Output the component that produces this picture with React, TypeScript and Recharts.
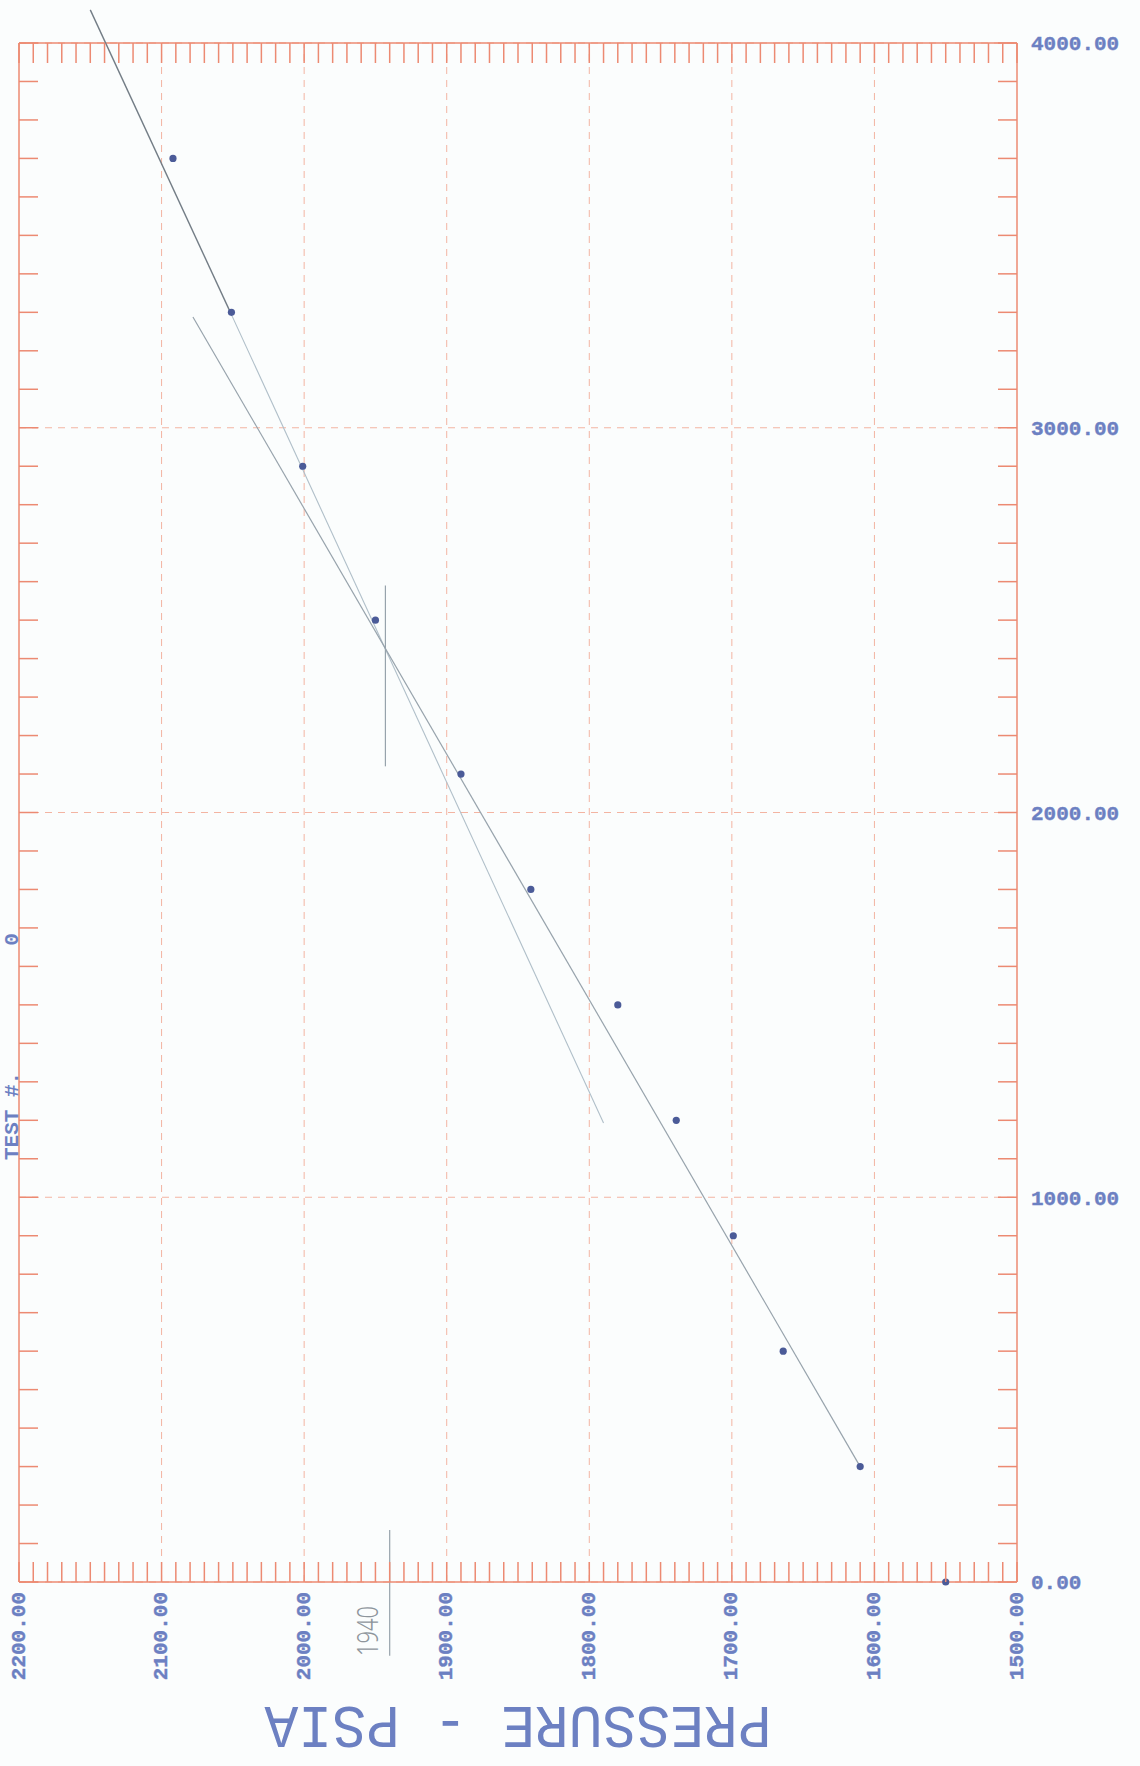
import React from "react";
import {
  ScatterChart,
  Scatter,
  XAxis,
  YAxis,
  CartesianGrid,
  ReferenceLine,
} from "recharts";

// plotted readings: pressure (psia) against the right-hand scale
const pressure = [2092, 2051, 2001, 1950, 1890, 1841, 1780, 1739, 1699, 1664, 1610, 1550];
const reading = [3700, 3300, 2900, 2500, 2100, 1800, 1500, 1200, 900, 600, 300, 0];

// pencilled lines, as [pressure, reading] points
const steepLine = [[2150, 4086], [2051, 3294], [1790, 1193]];
const fitLine = [[2078, 3288], [1610, 300]];
const crossMark = [[1943, 2590], [1943, 2120]];
const noteLine = [[1940, 135], [1940, -192]];
const noteText = "1940";

const pressureTicks = [2200, 2100, 2000, 1900, 1800, 1700, 1600, 1500];
const readingTicks = [0, 1000, 2000, 3000, 4000];
const pressureMinor = Array.from({ length: 71 }, (_, i) => 1500 + i * 10);
const readingMinor = Array.from({ length: 41 }, (_, i) => i * 100);

const xTitle = "PRESSURE - PSIA";
const sideTitle = "TEST #.          0";

const ORANGE = "#ec8a72";
const GRID = "#f3b4a2";
const BLUE = "#6c80c2";
const DOT = "#4b5b98";
const PENCIL_DARK = "#737d86";
const PENCIL = "#97a3ac";
const PENCIL_LIGHT = "#b0bfc9";

const TOP = 43; // chart top margin = frame top
const TICK = 20;

const points = pressure.map((p, i) => ({ p, t: reading[i] }));
const seg = (a: number[]) => ({ x: a[0], y: a[1] });

// minor y axes draw only their tick marks
const NoLabel = () => <g />;

// every 10 psi: inward marks on bottom and top frame, label every 100
const PressureTick = ({ x, y, payload }: any) => {
  const v = Number(payload.value);
  const base = y - 10;
  return (
    <g>
      <line x1={x} x2={x} y1={base} y2={base - TICK} stroke={ORANGE} strokeWidth={1.5} />
      <line x1={x} x2={x} y1={TOP} y2={TOP + TICK} stroke={ORANGE} strokeWidth={1.5} />
      {pressureTicks.includes(v) && (
        <text
          x={x}
          y={y}
          transform={`rotate(-90 ${x} ${y})`}
          textAnchor="end"
          dominantBaseline="central"
          fontFamily="Liberation Mono"
          fontWeight="bold"
          fontSize={21}
          fill={BLUE}
          stroke={BLUE}
          strokeWidth={0.4}
        >
          {v.toFixed(2)}
        </text>
      )}
    </g>
  );
};

const XTitle = ({ viewBox }: any) => {
  const cx = viewBox.x + viewBox.width / 2;
  const cy = viewBox.y + 141;
  return (
    <text
      x={cx}
      y={cy}
      transform={`rotate(180 ${cx} ${cy})`}
      textAnchor="middle"
      dominantBaseline="central"
      fontFamily="Liberation Mono"
      fontSize={62}
      textLength={507}
      lengthAdjust="spacingAndGlyphs"
      fill={BLUE}
    >
      {xTitle}
    </text>
  );
};

// side title sits in the narrow strip left of the frame
const SideTitle = ({ viewBox }: any) => {
  const x = viewBox.x - 1;
  const y = viewBox.y + 1117;
  return (
    <text
      x={x}
      y={y}
      transform={`rotate(-90 ${x} ${y})`}
      textAnchor="start"
      fontFamily="Liberation Mono"
      fontWeight="bold"
      fontSize={21}
      fill={BLUE}
      style={{ whiteSpace: "pre" }}
    >
      {sideTitle}
    </text>
  );
};

const NoteLabel = (props: any) => {
  const vb = props.viewBox || {};
  const x = (vb.x ?? vb.x1) - 23;
  const y = vb.height != null ? vb.y + vb.height : Math.max(vb.y1, vb.y2);
  return (
    <text
      x={x}
      y={y}
      transform={`rotate(-90 ${x} ${y})`}
      textAnchor="start"
      dominantBaseline="central"
      fontFamily="Noto Sans"
      fontWeight={300}
      fontSize={30}
      textLength={50}
      lengthAdjust="spacingAndGlyphs"
      fill="#8e959c"
    >
      {noteText}
    </text>
  );
};

const Dot = ({ cx, cy }: any) => <circle cx={cx} cy={cy} r={3.6} fill={DOT} />;

export default function App() {
  const line = { stroke: ORANGE, strokeWidth: 1.5 };
  return (
    <div style={{ position: "absolute", left: 0, top: 0, width: 1140, height: 1766, background: "#fbfdfd" }}>
      <ScatterChart width={1140} height={1766} margin={{ top: TOP, right: 0, bottom: 0, left: 19 }}>
        <CartesianGrid stroke={GRID} strokeDasharray="7 6" strokeWidth={1} vertical={false} />
        {pressureTicks.slice(1, -1).map((v) => (
          <ReferenceLine key={v} x={v} stroke={GRID} strokeDasharray="7 6" strokeWidth={1} />
        ))}
        <ReferenceLine y={4000} stroke={ORANGE} strokeWidth={1.5} />

        <XAxis
          dataKey="p"
          type="number"
          domain={[1500, 2200]}
          reversed
          ticks={pressureMinor}
          interval={0}
          height={184}
          axisLine={line}
          tickLine={false}
          tickSize={0}
          tickMargin={10}
          tick={<PressureTick />}
          label={<XTitle />}
        />

        <YAxis
          dataKey="t"
          type="number"
          orientation="right"
          domain={[0, 4000]}
          ticks={readingTicks}
          interval={0}
          width={123}
          axisLine={line}
          tickLine={false}
          tickSize={0}
          tickMargin={14}
          tickFormatter={(v: number) => v.toFixed(2)}
          tick={{ fill: BLUE, stroke: BLUE, strokeWidth: 0.4, fontFamily: "Liberation Mono", fontWeight: "bold", fontSize: 21 }}
        />
        <YAxis
          yAxisId="left"
          orientation="left"
          mirror
          type="number"
          domain={[0, 4000]}
          allowDataOverflow
          ticks={readingMinor}
          interval={0}
          width={20}
          tick={NoLabel}
          tickSize={19}
          tickLine={line}
          axisLine={line}
          label={<SideTitle />}
        />
        <YAxis
          yAxisId="rightMinor"
          orientation="right"
          mirror
          type="number"
          domain={[0, 4000]}
          allowDataOverflow
          ticks={readingMinor}
          interval={0}
          width={20}
          tick={NoLabel}
          tickSize={19}
          tickLine={line}
          axisLine={false}
        />

        <ReferenceLine
          segment={[seg(steepLine[0]), seg(steepLine[1])]}
          stroke={PENCIL_DARK}
          strokeWidth={1.4}
          ifOverflow="visible"
        />
        <ReferenceLine
          segment={[seg(steepLine[1]), seg(steepLine[2])]}
          stroke={PENCIL_LIGHT}
          strokeWidth={1.1}
          ifOverflow="visible"
        />
        <ReferenceLine
          segment={[seg(fitLine[0]), seg(fitLine[1])]}
          stroke={PENCIL}
          strokeWidth={1.2}
          ifOverflow="visible"
        />
        <ReferenceLine
          segment={[seg(crossMark[0]), seg(crossMark[1])]}
          stroke={PENCIL}
          strokeWidth={1.2}
          ifOverflow="visible"
        />
        <ReferenceLine
          segment={[seg(noteLine[0]), seg(noteLine[1])]}
          stroke={PENCIL}
          strokeWidth={1.2}
          ifOverflow="visible"
          label={NoteLabel}
        />

        <Scatter data={points} fill={DOT} shape={<Dot />} isAnimationActive={false} />
      </ScatterChart>
    </div>
  );
}
